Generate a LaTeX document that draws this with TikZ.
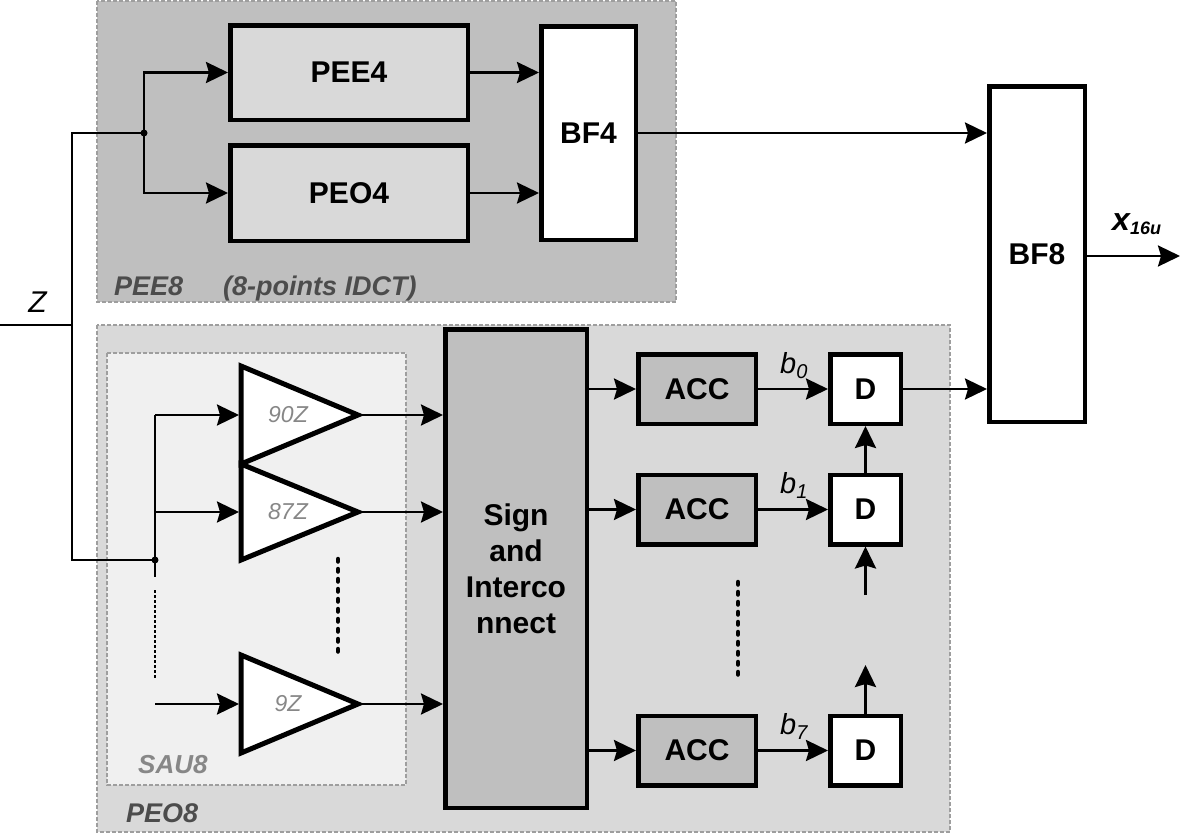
\documentclass[tikz,border=0pt]{standalone}
\usepackage{fontspec}
\setmainfont{Liberation Sans}
\usetikzlibrary{arrows.meta}
\definecolor{groupdark}{gray}{0.75}
\definecolor{groupmid}{gray}{0.85}
\definecolor{grouplight}{gray}{0.94}
\definecolor{groupline}{gray}{0.62}
\definecolor{labeldark}{gray}{0.3}
\definecolor{labellight}{gray}{0.53}

\tikzset{
  grp/.style={draw=groupline, line width=2pt, dash pattern=on 4pt off 2pt},
  blk/.style={draw, line width=4.5pt, inner sep=0pt, align=center, font=\fontsize{30}{36}\selectfont\bfseries},
  amp/.style={draw, fill=white, line width=5pt},
  amplbl/.style={inner sep=0pt, text=labellight, font=\fontsize{23}{23}\selectfont\itshape},
  grplbl/.style={anchor=base west, inner sep=0pt, text=labeldark, font=\fontsize{27}{27}\selectfont\bfseries\itshape},
  sig/.style={line width=2.7pt},
  arr/.style={sig, -{Stealth[length=22pt,width=21pt,inset=3pt]}},
  dots/.style={line width=4.5pt, line cap=round, dash pattern=on 2.5pt off 7.5pt},
  bitlbl/.style={anchor=base west, inner sep=0pt, font=\fontsize{29}{29}\selectfont\itshape},
}

\begin{document}
\begin{tikzpicture}[x=1pt,y=-1pt]
\useasboundingbox (0,0) rectangle (1181,833);

% group backgrounds
\draw [grp, fill=groupdark] (97,1) rectangle (676,302);
\draw [grp, fill=groupmid] (97,325) rectangle (950,832);
\draw [grp, fill=grouplight] (107,353) rectangle (406,785);
\node [grplbl] (lpee8) at (114,295) {PEE8};
\node [grplbl] (lidct) at (223,295) {(8-points IDCT)};
\node [grplbl] (lpeo8) at (126,822) {PEO8};
\node [grplbl, text=labellight, font=\fontsize{26}{26}\selectfont\bfseries\itshape] (lsau8) at (138,773) {SAU8};

% upper half
\node [blk, fill=groupmid, minimum width=237.5pt, minimum height=94.5pt] (pee4) at (349,72.5) {PEE4};
\node [blk, fill=groupmid, minimum width=237.5pt, minimum height=95.5pt] (peo4) at (349,193) {PEO4};
\node [blk, fill=white, minimum width=94.5pt, minimum height=213.5pt] (bf4) at (588.5,133) {BF4};
\node [blk, fill=white, minimum width=95.5pt, minimum height=335.5pt] (bf8) at (1037,254) {BF8};

% input Z
\coordinate (zin) at (0,325);
\coordinate (zbus) at (72,325);
\coordinate (jpee) at (144,133);
\coordinate (jpeo) at (155,560);
\node [anchor=base, inner sep=0pt, font=\fontsize{30}{30}\selectfont\itshape] (lz) at (37.5,312) {Z};
\draw [sig] (zin) -- (zbus);
\draw [sig] (jpee) -| (zbus) |- (jpeo);
\fill (jpee) circle (3.5pt);
\fill (jpeo) circle (3.5pt);
\draw [arr] (jpee) |- (pee4.west);
\draw [arr] (jpee) |- (peo4.west);
\draw [arr] (pee4.east) -- (pee4.east -| bf4.west);
\draw [arr] (peo4.east) -- (peo4.east -| bf4.west);
\draw [arr] (bf4.east) -- (bf4.east -| bf8.west);

% output
\coordinate (xout) at (1180,256);
\draw [arr] (bf8.east |- xout) -- (xout);
\node [anchor=base west, inner sep=0pt, font=\fontsize{32}{32}\selectfont\bfseries\itshape] (lx) at (1112,230) {x\raisebox{-4pt}{\fontsize{18}{18}\selectfont 16u}};

% multipliers
\coordinate (a90in) at (239,415);  \coordinate (a90out) at (358,415);
\coordinate (a87in) at (239,512);  \coordinate (a87out) at (358,512);
\coordinate (a9in) at (239,704);   \coordinate (a9out) at (358,704);
\draw [amp] (241,366) -- (a90out) -- (241,464) -- cycle;
\draw [amp] (241,464) -- (a87out) -- (241,560) -- cycle;
\draw [amp] (241,655) -- (a9out) -- (241,753) -- cycle;
\node [amplbl] (amp90) at (288,415) {90Z};
\node [amplbl] (amp87) at (288,512) {87Z};
\node [amplbl] (amp9) at (288,704) {9Z};

% fan out to the multipliers
\coordinate (fk90) at (155,415);
\coordinate (fk87) at (155,512);
\coordinate (fk9) at (155,704);
\coordinate (fkend) at (155,577);
\coordinate (fkdots) at (155,590);
\coordinate (fkdotsend) at (155,678);
\draw [sig] (fk90) -- (fkend);
\draw [sig, dash pattern=on 3pt off 2pt] (fkdots) -- (fkdotsend);
\draw [arr] (fk90) -- (a90in);
\draw [arr] (fk87) -- (a87in);
\draw [arr] (fk9) -- (a9in);
\draw [dots] (338,559) -- (338,653);

% sign and interconnect
\node [blk, fill=groupdark, minimum width=141.5pt, minimum height=478.5pt] (sign) at (516,568.5) {Sign\\and\\Interco\\nnect};
\draw [arr] (a90out) -- (a90out -| sign.west);
\draw [arr] (a87out) -- (a87out -| sign.west);
\draw [arr] (a9out) -- (a9out -| sign.west);

% accumulators
\node [blk, fill=groupdark, minimum width=117.5pt, minimum height=69.5pt] (acc0) at (697,389) {ACC};
\node [blk, fill=groupdark, minimum width=117.5pt, minimum height=69.5pt] (acc1) at (697,509.5) {ACC};
\node [blk, fill=groupdark, minimum width=117.5pt, minimum height=69.5pt] (acc7) at (697,750.5) {ACC};
\draw [arr] (sign.east |- acc0) -- (acc0.west);
\draw [arr] (sign.east |- acc1) -- (acc1.west);
\draw [arr] (sign.east |- acc7) -- (acc7.west);
\draw [dots] (738,582) -- (738,677);

% delay chain
\node [blk, fill=white, minimum width=70.5pt, minimum height=69.5pt] (d0) at (865.5,389) {D};
\node [blk, fill=white, minimum width=70.5pt, minimum height=69.5pt] (d1) at (865.5,509.5) {D};
\node [blk, fill=white, minimum width=70.5pt, minimum height=69.5pt] (d7) at (865.5,750.5) {D};
\draw [arr] (acc0.east) -- (d0.west);
\draw [arr] (acc1.east) -- (d1.west);
\draw [arr] (acc7.east) -- (d7.west);
\node [bitlbl] (lb0) at (780,373) {b\raisebox{-5pt}{\fontsize{20}{20}\selectfont 0}};
\node [bitlbl] (lb1) at (780,493) {b\raisebox{-5pt}{\fontsize{20}{20}\selectfont 1}};
\node [bitlbl] (lb7) at (780,734) {b\raisebox{-5pt}{\fontsize{20}{20}\selectfont 7}};
\coordinate (d1feed) at (865.5,595);
\coordinate (d7up) at (865.5,665);
\draw [arr] (d1.north) -- (d0.south);
\draw [arr] (d1feed) -- (d1.south);
\draw [arr] (d7.north) -- (d7up);
\draw [arr] (d0.east) -- (d0.east -| bf8.west);
\end{tikzpicture}
\end{document}
